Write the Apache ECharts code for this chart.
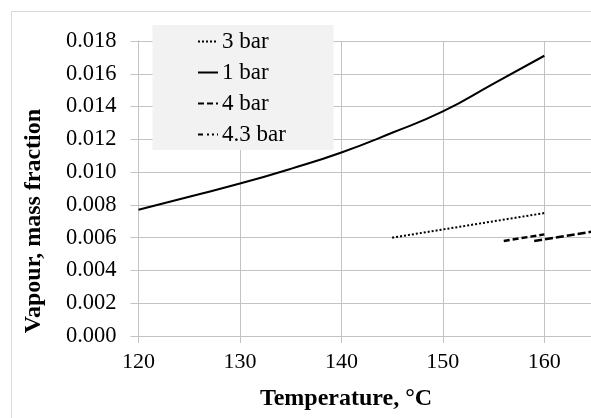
<!DOCTYPE html>
<html><head><meta charset="utf-8">
<script src="https://cdn.jsdelivr.net/npm/echarts@6/dist/echarts.min.js"></script>
<style>html,body{margin:0;padding:0;background:#fff}#c{width:591px;height:418px}</style>
</head><body><div id="c"></div>
<script>
const seriesNames = ['3 bar', '1 bar', '4 bar', '4.3 bar'];
const temp1bar = [120, 125, 130, 135, 140, 145, 150, 155, 160];
const frac1bar = [0.0077, 0.0085, 0.0093, 0.0102, 0.0112, 0.0124, 0.0137, 0.0154, 0.0171];
const temp3bar = [145, 150, 155, 160];
const frac3bar = [0.0060, 0.0065, 0.0070, 0.0075];
const temp4bar = [156, 160];
const frac4bar = [0.0058, 0.0062];
const temp43bar = [159, 165];
const frac43bar = [0.0058, 0.0064];
const xTicks = [120, 130, 140, 150, 160];
const yMax = 0.018, yStep = 0.002;

const font = '"Liberation Serif", "Times New Roman", serif';
const zip = (a, b) => a.map((v, i) => [v, b[i]]);
const chart = echarts.init(document.getElementById('c'), null, {renderer: 'canvas'});
const grey = '#c3c3c3';
chart.setOption({
  animation: false,
  backgroundColor: '#fff',
  grid: {left: 138.5, top: 41, right: 0, bottom: 82, containLabel: false},
  xAxis: {
    type: 'value', min: 120, max: 164.6, interval: 10,
    axisLine: {show: true, lineStyle: {color: grey, width: 1}},
    axisTick: {show: true, length: 7, lineStyle: {color: grey}},
    splitLine: {show: true, lineStyle: {color: grey, width: 1}},
    axisLabel: {
      fontFamily: font, fontSize: 22, color: '#000', margin: 15,
      showMaxLabel: false,
      formatter: v => xTicks.includes(v) ? String(v) : ''
    }
  },
  yAxis: {
    type: 'value', min: 0, max: yMax, interval: yStep,
    axisLine: {show: true, lineStyle: {color: grey, width: 1}},
    axisTick: {show: true, length: 8, lineStyle: {color: grey}},
    splitLine: {show: true, lineStyle: {color: grey, width: 1}},
    axisLabel: {fontFamily: font, fontSize: 22.5, color: '#000', margin: 22,
      formatter: v => v.toFixed(3)}
  },
  legend: {
    left: 197, top: 30, orient: 'vertical', itemWidth: 20, itemHeight: 14, itemGap: 8,
    padding: 0, z: 10,
    itemStyle: {opacity: 0},
    textStyle: {fontFamily: font, fontSize: 23, color: '#000', lineHeight: 22, padding: [0, 0, 0, -1]},
    data: [
      {name: seriesNames[0]},
      {name: seriesNames[1]},
      {name: seriesNames[2]},
      {name: seriesNames[3], lineStyle: {type: [5, 4, 2, 3, 2, 3], width: 2}}
    ]
  },
  graphic: [
    {type: 'rect', z: -1, silent: true, shape: {x: 11.5, y: 11.5, width: 700, height: 500},
      style: {fill: 'none', stroke: '#d9d9d9', lineWidth: 1}},
    {type: 'rect', z: 2, silent: true, shape: {x: 152.5, y: 25, width: 181, height: 125},
      style: {fill: '#f2f2f2'}},
    {type: 'text', silent: true, x: 34, y: 221, rotation: Math.PI / 2,
      style: {text: 'Vapour, mass fraction', font: 'bold 24px ' + font, fill: '#000',
        align: 'center', verticalAlign: 'middle'}},
    {type: 'text', silent: true, x: 346, y: 399,
      style: {text: 'Temperature, °C', font: 'bold 24px ' + font, fill: '#000',
        align: 'center', verticalAlign: 'middle'}}
  ],
  series: [
    {name: '3 bar', type: 'line', symbol: 'none', data: zip(temp3bar, frac3bar), z: 3,
      lineStyle: {color: '#000', width: 2, type: [2, 2]}, itemStyle: {color: '#000'}},
    {name: '1 bar', type: 'line', symbol: 'none', smooth: true, data: zip(temp1bar, frac1bar), z: 3,
      lineStyle: {color: '#000', width: 2, type: 'solid'}, itemStyle: {color: '#000'}},
    {name: '4 bar', type: 'line', symbol: 'none', data: zip(temp4bar, frac4bar), z: 3,
      lineStyle: {color: '#000', width: 2.5, type: [6, 3]}, itemStyle: {color: '#000'}},
    {name: '4.3 bar', type: 'line', symbol: 'none', data: zip(temp43bar, frac43bar), z: 3,
      lineStyle: {color: '#000', width: 2.5, type: [8, 3]}, itemStyle: {color: '#000'}}
  ]
});
</script></body></html>
